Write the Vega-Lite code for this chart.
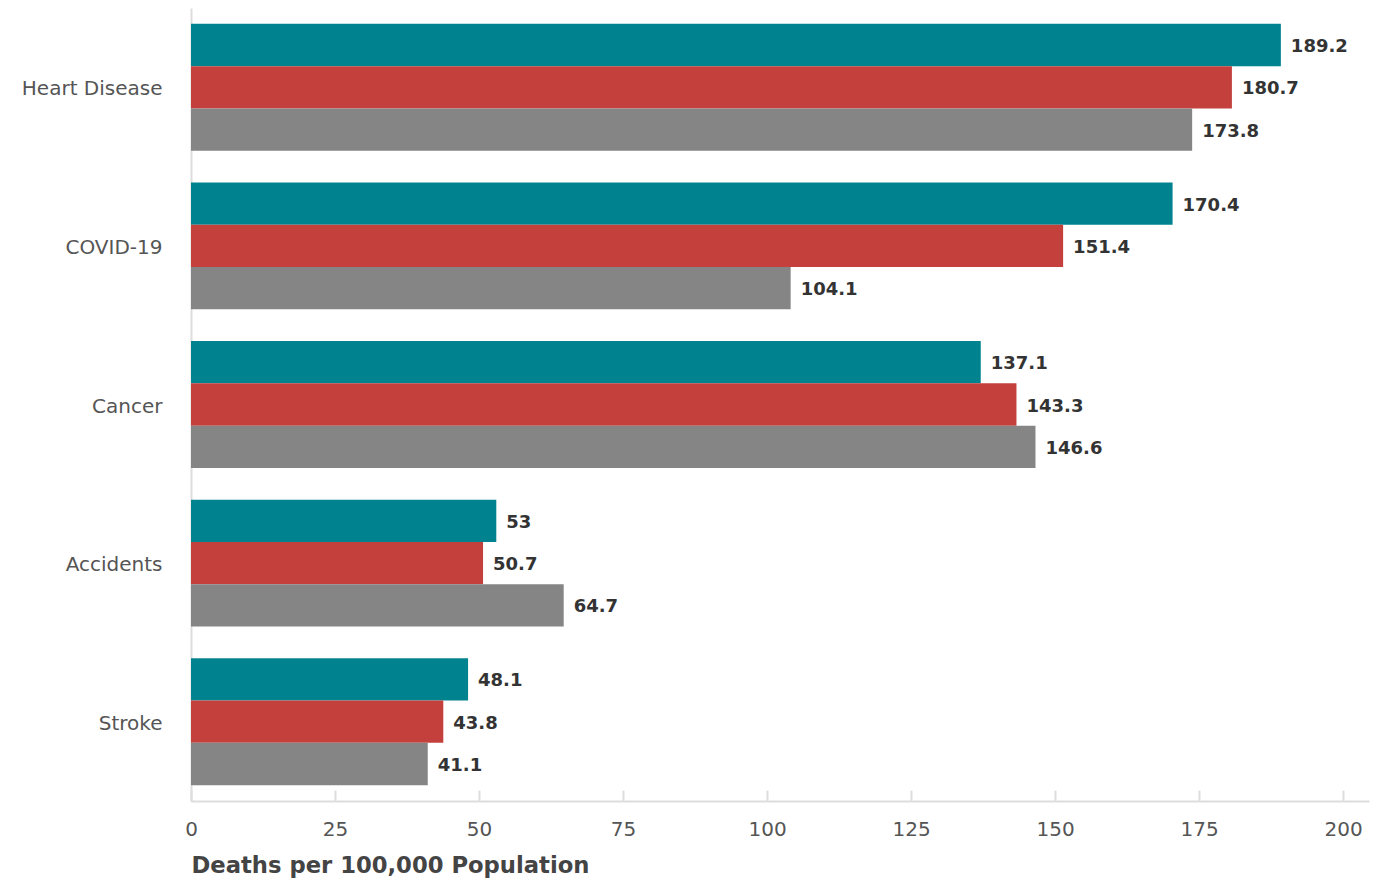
{
  "$schema": "https://vega.github.io/schema/vega-lite/v6.json",
  "width": 1178,
  "height": 793,
  "autosize": {"type": "none"},
  "padding": {"left": 191, "top": 8, "right": 17, "bottom": 77},
  "background": "white",
  "config": {
    "view": {"stroke": null},
    "font": "DejaVu Sans"
  },
  "data": {
    "values": [
      {"cause": "Heart Disease", "series": "s1", "rank": 1, "rate": 189.2},
      {"cause": "Heart Disease", "series": "s2", "rank": 2, "rate": 180.7},
      {"cause": "Heart Disease", "series": "s3", "rank": 3, "rate": 173.8},
      {"cause": "COVID-19", "series": "s1", "rank": 1, "rate": 170.4},
      {"cause": "COVID-19", "series": "s2", "rank": 2, "rate": 151.4},
      {"cause": "COVID-19", "series": "s3", "rank": 3, "rate": 104.1},
      {"cause": "Cancer", "series": "s1", "rank": 1, "rate": 137.1},
      {"cause": "Cancer", "series": "s2", "rank": 2, "rate": 143.3},
      {"cause": "Cancer", "series": "s3", "rank": 3, "rate": 146.6},
      {"cause": "Accidents", "series": "s1", "rank": 1, "rate": 53},
      {"cause": "Accidents", "series": "s2", "rank": 2, "rate": 50.7},
      {"cause": "Accidents", "series": "s3", "rank": 3, "rate": 64.7},
      {"cause": "Stroke", "series": "s1", "rank": 1, "rate": 48.1},
      {"cause": "Stroke", "series": "s2", "rank": 2, "rate": 43.8},
      {"cause": "Stroke", "series": "s3", "rank": 3, "rate": 41.1}
    ]
  },
  "encoding": {
    "y": {
      "field": "cause",
      "type": "nominal",
      "sort": ["Heart Disease", "COVID-19", "Cancer", "Accidents", "Stroke"],
      "scale": {"paddingInner": 0.2, "paddingOuter": 0.1},
      "axis": {
        "title": null,
        "ticks": false,
        "domainColor": "#dddddd",
        "domainWidth": 2,
        "labelFontSize": 20,
        "labelColor": "#555555",
        "labelPadding": 29,
        "labelOffset": 2
      }
    },
    "yOffset": {
      "field": "series",
      "type": "nominal",
      "sort": ["s1", "s2", "s3"],
      "scale": {"paddingInner": 0, "paddingOuter": 0}
    },
    "x": {
      "field": "rate",
      "type": "quantitative",
      "scale": {"domain": [0, 204.5], "nice": false},
      "axis": {
        "title": "Deaths per 100,000 Population",
        "values": [0, 25, 50, 75, 100, 125, 150, 175, 200],
        "grid": false,
        "domainColor": "#dddddd",
        "domainWidth": 2,
        "tickColor": "#dddddd",
        "tickWidth": 2,
        "tickSize": -11,
        "labelFontSize": 20,
        "labelColor": "#555555",
        "labelPadding": 29,
        "labelFlush": false,
        "titleFontSize": 22.7,
        "titleFontWeight": "bold",
        "titleColor": "#444444",
        "titleAnchor": "start",
        "titlePadding": 15
      }
    }
  },
  "layer": [
    {
      "mark": {"type": "bar"},
      "encoding": {
        "color": {
          "field": "series",
          "type": "nominal",
          "scale": {"domain": ["s1", "s2", "s3"], "range": ["#00838f", "#c3403d", "#858585"]},
          "legend": null
        }
      }
    },
    {
      "mark": {"type": "text", "align": "left", "baseline": "middle", "dx": 10, "dy": 2, "fontSize": 18, "fontWeight": "bold", "color": "#333333"},
      "encoding": {
        "text": {"field": "rate", "type": "quantitative"}
      }
    }
  ]
}
